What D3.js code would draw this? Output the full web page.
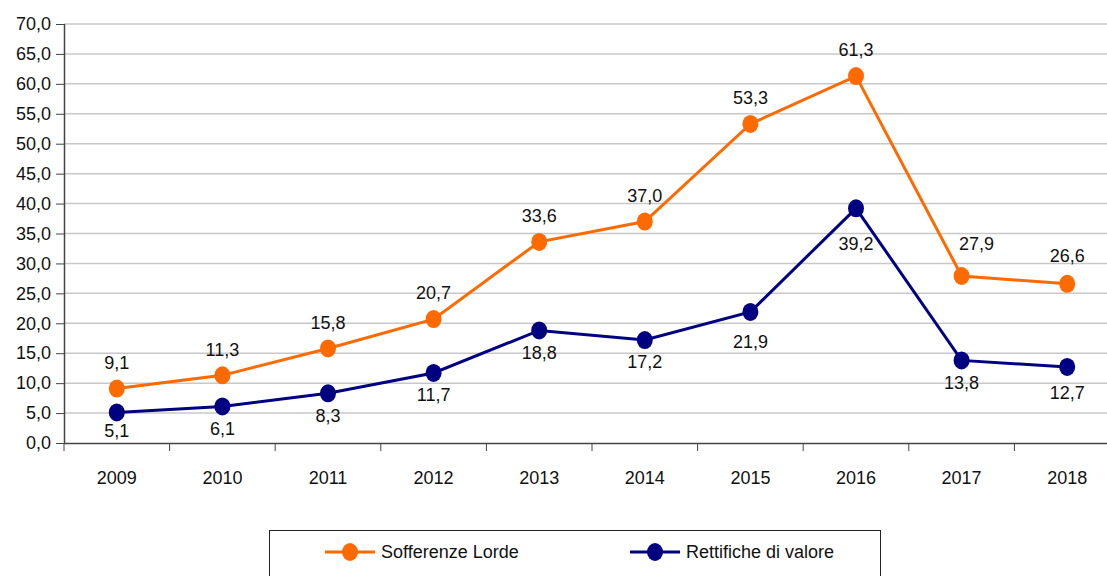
<!DOCTYPE html>
<html>
<head>
<meta charset="utf-8">
<script src="https://cdn.jsdelivr.net/npm/d3@7"></script>
<style>
  body { margin: 0; background: #fff; }
  svg text { font-family: "Liberation Sans Narrow", "Arial Narrow", "Liberation Sans", sans-serif; fill: #111; }
</style>
</head>
<body>
<svg id="chart" width="1107" height="576"></svg>
<script>
var years = ["2009", "2010", "2011", "2012", "2013", "2014", "2015", "2016", "2017", "2018"];
var sofferenze = [9.1, 11.3, 15.8, 20.7, 33.6, 37.0, 53.3, 61.3, 27.9, 26.6];
var rettifiche = [5.1, 6.1, 8.3, 11.7, 18.8, 17.2, 21.9, 39.2, 13.8, 12.7];
var yTicks = [0, 5, 10, 15, 20, 25, 30, 35, 40, 45, 50, 55, 60, 65, 70];

var pLeft = 64, pRight = 1120, pTop = 24, pBottom = 443;
var svg = d3.select("#chart");
var fmt = function(v) { return v.toFixed(1).replace(".", ","); };

var x = d3.scaleBand().domain(years).range([pLeft, pRight]);
var y = d3.scaleLinear().domain([0, 70]).range([pBottom, pTop]);

// gridlines
svg.selectAll("line.grid")
    .data(yTicks.filter(function(d) { return d > 0; }))
    .enter()
    .append("line")
    .attr("class", "grid")
    .attr("x1", pLeft)
    .attr("x2", pRight)
    .attr("y1", function(d) { return y(d); })
    .attr("y2", function(d) { return y(d); })
    .style("stroke", "#c8c8c8")
    .style("stroke-width", 1.5);

// y axis
var yAxis = d3.axisLeft(y).tickValues(yTicks).tickFormat(fmt).tickSize(8).tickPadding(5);
var gy = svg.append("g")
    .attr("transform", "translate(" + pLeft + ",0)")
    .call(yAxis);
gy.selectAll("text").attr("font-size", "18px");

// x axis
var xAxis = d3.axisBottom(x).tickSize(0).tickPadding(28);
var gx = svg.append("g")
    .attr("transform", "translate(0," + pBottom + ")")
    .call(xAxis);
gx.selectAll("text").attr("font-size", "18px");
gx.selectAll(".tick line").remove();
// category boundary ticks
svg.selectAll("line.xtick")
    .data(years)
    .enter()
    .append("line")
    .attr("class", "xtick")
    .attr("x1", function(d) { return x(d); })
    .attr("x2", function(d) { return x(d); })
    .attr("y1", pBottom)
    .attr("y2", pBottom + 8)
    .style("stroke", "#444");
svg.selectAll(".domain").style("stroke", "#444").style("stroke-width", 1.5);
gx.select(".domain").attr("d", "M" + pLeft + ",0.5H" + pRight);
gy.select(".domain").attr("d", "M0.5," + pTop + "V" + pBottom);
svg.selectAll(".tick line").style("stroke", "#444");

var cx = function(d, i) { return x(years[i]) + x.bandwidth() / 2; };

// hand-placed label nudges, as in the original chart
var nudge = {
    "Sofferenze Lorde": { "2017": [15, -6], "2018": [0, -2] },
    "Rettifiche di valore": { "2009": [0, -4], "2015": [0, 8], "2016": [0, 13], "2018": [0, 4] }
};

var series = [
    { name: "Sofferenze Lorde", values: sofferenze, color: "#ff6a00", dy: -26 },
    { name: "Rettifiche di valore", values: rettifiche, color: "#000080", dy: 22 }
];

var line = d3.line()
    .x(cx)
    .y(function(d) { return y(d); });

series.forEach(function(s) {
    var nd = function(i) { return nudge[s.name][years[i]] || [0, 0]; };

    svg.append("path")
        .datum(s.values)
        .attr("d", line)
        .attr("fill", "none")
        .attr("stroke", s.color)
        .attr("stroke-width", 3);

    svg.selectAll(null)
        .data(s.values)
        .enter()
        .append("ellipse")
        .attr("cx", cx)
        .attr("cy", function(d) { return y(d); })
        .attr("rx", 8)
        .attr("ry", 9)
        .attr("fill", s.color);

    svg.selectAll(null)
        .data(s.values)
        .enter()
        .append("text")
        .attr("x", function(d, i) { return cx(d, i) + nd(i)[0]; })
        .attr("y", function(d, i) { return y(d) + s.dy + nd(i)[1]; })
        .attr("dy", "0.35em")
        .attr("text-anchor", "middle")
        .attr("font-size", "18px")
        .text(fmt);
});

// legend
svg.append("rect")
    .attr("x", 269.5)
    .attr("y", 530.5)
    .attr("width", 611)
    .attr("height", 60)
    .attr("fill", "none")
    .attr("stroke", "#222")
    .attr("stroke-width", 1);

var legX = [325, 630];
series.forEach(function(s, i) {
    var lg = svg.append("g").attr("transform", "translate(" + legX[i] + ",552)");
    lg.append("line")
        .attr("x1", 0).attr("x2", 50)
        .attr("stroke", s.color).attr("stroke-width", 3);
    lg.append("ellipse")
        .attr("cx", 25).attr("rx", 8).attr("ry", 9)
        .attr("fill", s.color);
    lg.append("text")
        .attr("x", 56)
        .attr("dy", "0.35em")
        .attr("font-size", "18px")
        .text(s.name);
});
</script>
</body>
</html>
